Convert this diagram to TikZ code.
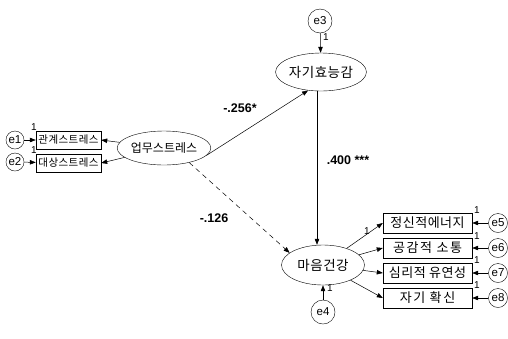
\documentclass[tikz,border=0pt]{standalone}
\usepackage{fontspec}
\setmainfont{Liberation Sans}
\newfontfamily\kr{Noto Sans CJK KR}
\newfontfamily\krw{Noto Sans CJK KR}[LetterSpace=12]
\newfontfamily\krs{Noto Sans CJK KR}[LetterSpace=4]
\usetikzlibrary{shapes.geometric,arrows.meta}
\begin{document}
\begin{tikzpicture}[x=1pt,y=-1pt,
  lat/.style={ellipse,draw,inner sep=0pt,font=\krs\fontsize{13.5}{13.5}\selectfont},
  obs/.style={rectangle,draw,inner sep=0pt},
  lbox/.style={obs,minimum width=65pt,minimum height=18pt,font=\krs\fontsize{10.5}{10.5}\selectfont},
  rbox/.style={obs,minimum width=89pt,minimum height=20pt,font=\krw\fontsize{13}{13}\selectfont},
  err/.style={ellipse,draw,inner sep=0pt,font=\fontsize{11.5}{11.5}\selectfont},
  arr/.style={-{Triangle[length=6pt,width=4.5pt]},line width=0.5pt},
  one/.style={font=\fontsize{10}{10}\selectfont,inner sep=0pt},
  coef/.style={font=\bfseries\fontsize{12.5}{12.5}\selectfont,inner sep=0pt}]
\useasboundingbox (0,0) rectangle (508,338);
% latent variables
\node[lat,minimum width=82pt,minimum height=38pt] (se) at (321,72) {자기효능감};
\node[lat,minimum width=80pt,minimum height=34pt,font=\kr\fontsize{12}{12}\selectfont] (js) at (164,148) {업무스트레스};
\node[lat,minimum width=83pt,minimum height=40pt] (mh) at (323,265) {마음건강};
% error terms
\node[err,minimum width=24pt,minimum height=24pt] (e3) at (320,21) {e3};
\node[err,minimum width=24pt,minimum height=24pt] (e4) at (323,312) {e4};
\node[err,minimum width=18pt,minimum height=18pt] (e1) at (15,140) {e1};
\node[err,minimum width=18pt,minimum height=18pt] (e2) at (15,162) {e2};
\node[err,minimum width=19pt,minimum height=19pt] (e5) at (498,223) {e5};
\node[err,minimum width=19pt,minimum height=19pt] (e6) at (498,248) {e6};
\node[err,minimum width=19pt,minimum height=19pt] (e7) at (498,273) {e7};
\node[err,minimum width=19pt,minimum height=19pt] (e8) at (498,298) {e8};
% observed indicators
\node[lbox] (b1) at (68.5,140) {관계스트레스};
\node[lbox] (b2) at (68.5,163) {대상스트레스};
\node[rbox,font=\krs\fontsize{13}{13}\selectfont] (r1) at (427.5,223) {정신적에너지};
\node[rbox] (r2) at (427.5,248) {공감적 소통};
\node[rbox,font=\krs\fontsize{13}{13}\selectfont] (r3) at (427.5,273) {심리적 유연성};
\node[rbox] (r4) at (427.5,298) {자기 확신};
% structural paths
\draw[arr] (js.-10) -- (se.-125);
\draw[arr,dash pattern=on 5pt off 4pt] (js.-30) -- (mh.160);
\draw[arr] ([xshift=-4pt]se.south) -- ([xshift=-6pt]mh.north);
% error arrows
\draw[arr] (e3) -- (se);
\draw[arr] (e4) -- (mh);
\draw[arr] (e1) -- (b1);
\draw[arr] (e2) -- (b2);
\draw[arr] (e5) -- (r1);
\draw[arr] (e6) -- (r2);
\draw[arr] (e7) -- (r3);
\draw[arr] (e8) -- (r4);
% measurement paths
\draw[arr] (js) -- (b1.east);
\draw[arr] (js) -- (b2.east);
\draw[arr] (mh) -- (r1.west);
\draw[arr] (mh) -- (r2.west);
\draw[arr] (mh) -- (r3.west);
\draw[arr] (mh) -- (r4.west);
% fixed loadings
\node[one] (o3) at (326,37) {1};
\node[one] (o4) at (330,288) {1};
\node[one] (o1) at (34,127) {1};
\node[one] (o2) at (34,150) {1};
\node[one] (om) at (367,231) {1};
\node[one] (o5) at (477,210) {1};
\node[one] (o6) at (477,236) {1};
\node[one] (o7) at (477,260) {1};
\node[one] (o8) at (477,285) {1};
% coefficients
\node[coef] (c1) at (240,108) {-.256*};
\node[coef] (c2) at (348,160) {.400 ***};
\node[coef] (c3) at (214,218) {-.126};
\end{tikzpicture}
\end{document}
